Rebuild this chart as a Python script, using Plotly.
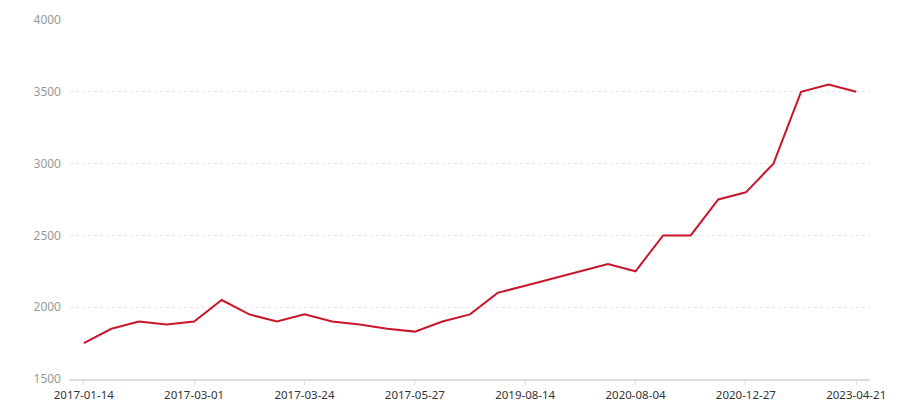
import plotly.graph_objects as go

# Category dates (only every 4th is labelled on the axis)
dates = [
    '2017-01-14', '2017-01-21', '2017-02-04', '2017-02-18',
    '2017-03-01', '2017-03-06', '2017-03-11', '2017-03-18',
    '2017-03-24', '2017-04-08', '2017-04-22', '2017-05-13',
    '2017-05-27', '2017-07-15', '2018-03-10', '2019-02-02',
    '2019-08-14', '2019-11-20', '2020-02-16', '2020-05-09',
    '2020-08-04', '2020-09-12', '2020-10-24', '2020-11-28',
    '2020-12-27', '2021-06-18', '2022-01-05', '2022-09-30',
    '2023-04-21',
]
prices = [
    1750, 1850, 1900, 1880, 1900, 2050, 1950, 1900,
    1950, 1900, 1880, 1850, 1830, 1900, 1950, 2100,
    2150, 2200, 2250, 2300, 2250, 2500, 2500, 2750,
    2800, 3000, 3500, 3550, 3500,
]
tick_labels = dates[::4]

fig = go.Figure()
fig.add_trace(go.Scatter(x=dates, y=prices, mode='lines',
                         line=dict(color='#c8172c', width=2),
                         hoverinfo='x+y'))

# page body has an 8px margin, so the figure is 8px smaller on each axis
fig.update_layout(
    width=892, height=392,
    margin=dict(l=62, r=30, t=12, b=21),
    paper_bgcolor='white', plot_bgcolor='white',
    showlegend=False,
    font=dict(family='Noto Sans, DejaVu Sans, sans-serif', size=12),
)
fig.update_xaxes(
    type='category', range=[-0.5, len(dates) - 0.5], automargin=False,
    tickmode='array', tickvals=tick_labels, ticktext=tick_labels,
    showgrid=False, showline=True, linecolor='#dcdcdc', linewidth=2,
    ticks='outside', ticklen=4, tickcolor='#dcdcdc',
    tickfont=dict(color='#333333', size=11.5), zeroline=False,
)
fig.update_yaxes(
    range=[1500, 4000], dtick=500, automargin=False,
    showgrid=True, gridcolor='#e6e6e6', griddash='dot', gridwidth=1,
    showline=False, zeroline=False, ticks='', ticklabelstandoff=8,
    tickfont=dict(color='#999999', size=12),
)

fig.write_html("out.html")
